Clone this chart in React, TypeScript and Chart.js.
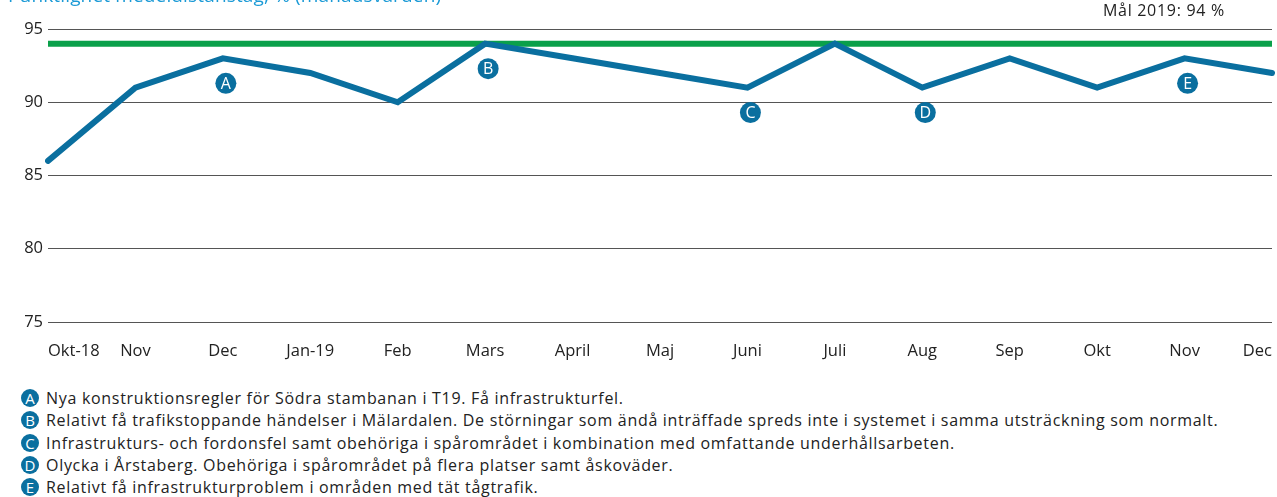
import React, { useEffect, useRef } from "react";
import { Chart, registerables } from "chart.js";

Chart.register(...registerables);

const months = ["Okt-18", "Nov", "Dec", "Jan-19", "Feb", "Mars", "April", "Maj", "Juni", "Juli", "Aug", "Sep", "Okt", "Nov", "Dec"];
const punctuality = [86, 91, 93, 92, 90, 94, 93, 92, 91, 94, 91, 93, 91, 93, 92];
const target2019 = [94, 94, 94, 94, 94, 94, 94, 94, 94, 94, 94, 94, 94, 94, 94];
const yTicks = [75, 80, 85, 90, 95];

const noteLetters = ["A", "B", "C", "D", "E"];
const noteMonthIndex = [2, 5, 8, 10, 13];
const noteTexts = [
  "Nya konstruktionsregler för Södra stambanan i T19. Få infrastrukturfel.",
  "Relativt få trafikstoppande händelser i Mälardalen. De störningar som ändå inträffade spreds inte i systemet i samma utsträckning som normalt.",
  "Infrastrukturs- och fordonsfel samt obehöriga i spårområdet i kombination med omfattande underhållsarbeten.",
  "Olycka i Årstaberg. Obehöriga i spårområdet på flera platser samt åskoväder.",
  "Relativt få infrastrukturproblem i områden med tät tågtrafik.",
];

const title = "Punktlighet medeldistanståg, % (månadsvärden)";
const targetLabel = "Mål 2019: 94 %";

const BLUE = "#0a6f9f";
const GREEN = "#0aa04a";
const FONT = "'Open Sans', sans-serif";

const markerPlugin = {
  id: "noteMarkers",
  afterDatasetsDraw(chart: any) {
    const ctx = chart.ctx;
    const xs = chart.scales.x;
    const ys = chart.scales.y;
    ctx.save();
    noteLetters.forEach((letter, i) => {
      const idx = noteMonthIndex[i];
      const x = xs.getPixelForValue(idx) + 3;
      const y = ys.getPixelForValue(punctuality[idx]) + 25;
      ctx.beginPath();
      ctx.arc(x, y, 10.5, 0, Math.PI * 2);
      ctx.fillStyle = BLUE;
      ctx.fill();
      ctx.fillStyle = "#ffffff";
      ctx.font = `16px ${FONT}`;
      ctx.textAlign = "center";
      ctx.textBaseline = "middle";
      ctx.fillText(letter, x, y + 1);
    });
    ctx.restore();
  },
};

function ChartCanvas() {
  const ref = useRef<HTMLCanvasElement | null>(null);
  useEffect(() => {
    document.body.style.margin = "0";
    const chart = new Chart(ref.current as HTMLCanvasElement, {
      type: "line",
      data: {
        labels: months,
        datasets: [
          {
            label: "Punktlighet",
            data: punctuality,
            borderColor: BLUE,
            borderWidth: 6,
            pointRadius: 0,
            tension: 0,
            borderJoinStyle: "miter",
            borderCapStyle: "round",
          },
          {
            label: "Mål 2019",
            data: target2019,
            borderColor: GREEN,
            borderWidth: 6,
            pointRadius: 0,
            tension: 0,
          },
        ],
      },
      options: {
        responsive: false,
        animation: false,
        layout: { padding: { left: 0, right: 5, top: 29, bottom: 0 } },
        plugins: { legend: { display: false }, tooltip: { enabled: false } },
        scales: {
          x: {
            type: "category",
            offset: false,
            grid: { display: false },
            border: { display: false },
            ticks: {
              color: "#222",
              font: { family: FONT, size: 16.5 },
              padding: 11,
              align: "inner",
              maxRotation: 0,
              autoSkip: false,
            },
            afterFit(scale: any) {
              scale.height = 53;
              scale.paddingLeft = 0;
              scale.paddingRight = 0;
            },
          },
          y: {
            min: 75,
            max: 95,
            afterBuildTicks(scale: any) {
              scale.ticks = yTicks.map((v) => ({ value: v }));
            },
            grid: { color: "#555", lineWidth: 1, drawTicks: false },
            border: { display: false },
            ticks: {
              color: "#222",
              font: { family: FONT, size: 16.5 },
              padding: 5,
            },
            afterFit(scale: any) {
              scale.width = 48;
              scale.paddingTop = 0;
              scale.paddingBottom = 0;
            },
          },
        },
      },
      plugins: [markerPlugin],
    });
    return () => chart.destroy();
  }, []);
  return <canvas ref={ref} width={1277} height={375} style={{ display: "block", width: 1277, height: 375 }} />;
}

export default function App() {
  return (
    <div style={{ position: "relative", width: 1277, height: 497, overflow: "hidden", fontFamily: FONT, background: "#fff" }}>
      <ChartCanvas />
      <div style={{ position: "absolute", left: 8, top: -15, fontSize: 19, letterSpacing: "0.15px", lineHeight: "20px", color: "#1b9ad6", whiteSpace: "nowrap" }}>
        {title}
      </div>
      <div style={{ position: "absolute", left: 1103, top: 0, fontSize: 16, letterSpacing: "0.7px", lineHeight: "20px", color: "#222", whiteSpace: "nowrap" }}>
        {targetLabel}
      </div>
      <div style={{ position: "absolute", left: 21, top: 387 }}>
        {noteLetters.map((letter, i) => (
          <div key={letter} style={{ display: "flex", alignItems: "center", height: 22.3, whiteSpace: "nowrap" }}>
            <span
              style={{
                display: "inline-flex",
                alignItems: "center",
                justifyContent: "center",
                width: 18,
                height: 18,
                borderRadius: "50%",
                background: BLUE,
                color: "#fff",
                fontSize: 15,
                marginRight: 7,
              }}
            >
              {letter}
            </span>
            <span style={{ fontSize: 16, letterSpacing: "0.7px", color: "#222" }}>{noteTexts[i]}</span>
          </div>
        ))}
      </div>
    </div>
  );
}
